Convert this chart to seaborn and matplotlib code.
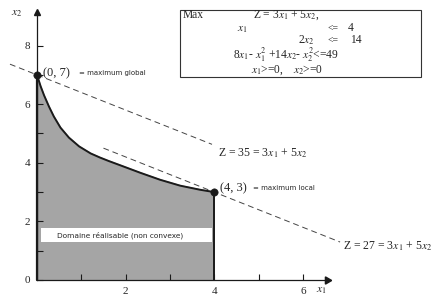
import numpy as np
import pandas as pd
import seaborn as sns
import matplotlib.pyplot as plt
from matplotlib.patches import Rectangle

# frontiere 8x1 - x1^2 + 14x2 - x2^2 = 49
curve_x = [0, 0.08, 0.16, 0.27, 0.38, 0.53, 0.72, 0.95, 1.21, 1.42, 1.62, 1.87,
           2.33, 2.78, 3.23, 3.68, 4.0]
curve_y = [7, 6.62, 6.3, 5.92, 5.58, 5.2, 4.86, 4.56, 4.32, 4.18, 4.06, 3.92,
           3.66, 3.42, 3.22, 3.08, 3.0]

# droites d'iso-profit Z = 3x1 + 5x2
z_values = [35, 27]
z_x_start = [-0.61, 1.5]
z_x_end = [3.95, 6.84]

# points optimaux
opt_x = [0, 4]
opt_y = [7, 3]

x_ticks = [1, 2, 3, 4, 5, 6]
y_ticks = [1, 2, 3, 4, 5, 6, 7, 8]

sns.set_theme(style="white")
plt.rcParams['font.family'] = ['Liberation Serif', 'DejaVu Serif']
plt.rcParams['mathtext.fontset'] = 'stix'

W, H = 434, 295
fig = plt.figure(figsize=(W / 100, H / 100), dpi=100)
ax = fig.add_axes([0, 0, 1, 1])
ax.set_xlim(-0.835, 8.96)
ax.set_ylim(-0.512, 9.556)
ax.set_axisbelow(False)

# domaine realisable
poly_x = [0] + curve_x + [4]
poly_y = [0] + curve_y + [0]
ax.fill(poly_x, poly_y, color="#a5a5a5", zorder=1)
sns.lineplot(x=curve_x, y=curve_y, sort=False, color="k", lw=1.4, ax=ax, zorder=3,
             solid_joinstyle='round')
ax.plot([4, 4], [0, 3], color="k", lw=1.4, zorder=3)
ax.plot([0, 0], [0, 7], color="k", lw=1.6, zorder=3)

# iso-profit
for z, x0, x1 in zip(z_values, z_x_start, z_x_end):
    xs = np.array([x0, x1])
    sns.lineplot(x=xs, y=(z - 3 * xs) / 5, color="#444444", lw=0.7,
                 linestyle=(0, (6, 4)), ax=ax, zorder=2)

sns.scatterplot(x=opt_x, y=opt_y, color="k", s=28, ax=ax, zorder=5, edgecolor="k")

# axes
ax.spines[['top', 'right']].set_visible(False)
ax.spines['left'].set_position(('data', 0))
ax.spines['bottom'].set_position(('data', 0))
ax.spines['left'].set_bounds(0, 9.1)
ax.spines['bottom'].set_bounds(0, 6.5)
for s in ['left', 'bottom']:
    ax.spines[s].set_color('k')
    ax.spines[s].set_linewidth(0.9)
    ax.spines[s].set_zorder(4)
ax.plot(6.55, 0, marker=(3, 0, -90), color='k', ms=6, clip_on=False)
ax.plot(0, 9.15, marker='^', color='k', ms=5, clip_on=False)

ax.set_xticks(x_ticks)
ax.set_xticklabels([str(t) if t % 2 == 0 else "" for t in x_ticks])
ax.set_yticks([0] + y_ticks)
ax.set_yticklabels([str(t) if t % 2 == 0 else "" for t in [0] + y_ticks])
ax.tick_params(direction='in', length=4.5, width=0.8, color='k',
               labelsize=8, pad=5, left=True, bottom=True)
ax.text(6.3, -0.33, "$x_1$", fontsize=8.5, ha='left', va='center')
ax.text(-0.45, 9.1, "$x_2$", fontsize=8.5, ha='center', va='center')

# annotations
sans = dict(family='DejaVu Sans', fontsize=5.0)
ax.annotate("(0, 7)", (0, 7), xytext=(4, 1), textcoords='offset points',
            fontsize=9, va='center')
ax.annotate("= maximum global", (0, 7), xytext=(30, 1.5), textcoords='offset points',
            va='center', **sans)
ax.annotate("(4, 3)", (4, 3), xytext=(4, 2.5), textcoords='offset points',
            fontsize=9, va='center')
ax.annotate("= maximum local", (4, 3), xytext=(28, 3), textcoords='offset points',
            va='center', **sans)
ax.text(4.08, 4.32, "Z = 35 = 3$x_1$ + 5$x_2$", fontsize=8.5, va='center')
ax.text(6.9, 1.15, "Z = 27 = 3$x_1$ + 5$x_2$", fontsize=8.5, va='center')

ax.add_patch(Rectangle((0.09, 1.28), 3.86, 0.51, facecolor='white', edgecolor='none', zorder=4))
ax.text(1.87, 1.535, "Domaine réalisable (non convexe)", ha='center', va='center',
        zorder=5, family='DejaVu Sans', fontsize=5.3)

# encadre du programme
fig.patches.append(Rectangle((180 / W, 1 - 77 / H), 241 / W, 67 / H, transform=fig.transFigure,
                             facecolor='white', edgecolor='#333333', lw=0.8))


def ptext(px, py, s, size=8.3):
    fig.text(px / W, 1 - py / H, s, va='center', fontsize=size)


ptext(183, 15, "Max")
ptext(253, 15, "Z = 3$x_1$ + 5$x_2$,")
ptext(237, 29, "$x_1$")
ptext(328, 28, "<=", 7)
ptext(348, 28, "4")
ptext(298, 40, "2$x_2$")
ptext(328, 40, "<=", 7)
ptext(350, 40, "14")
ptext(233, 54.5, "8$x_1$- $x_1^2$ +14$x_2$- $x_2^2$<=49")
ptext(251, 70, "$x_1$>=0,")
ptext(293, 70, "$x_2$>=0")

fig.savefig("out.png", dpi=100)
